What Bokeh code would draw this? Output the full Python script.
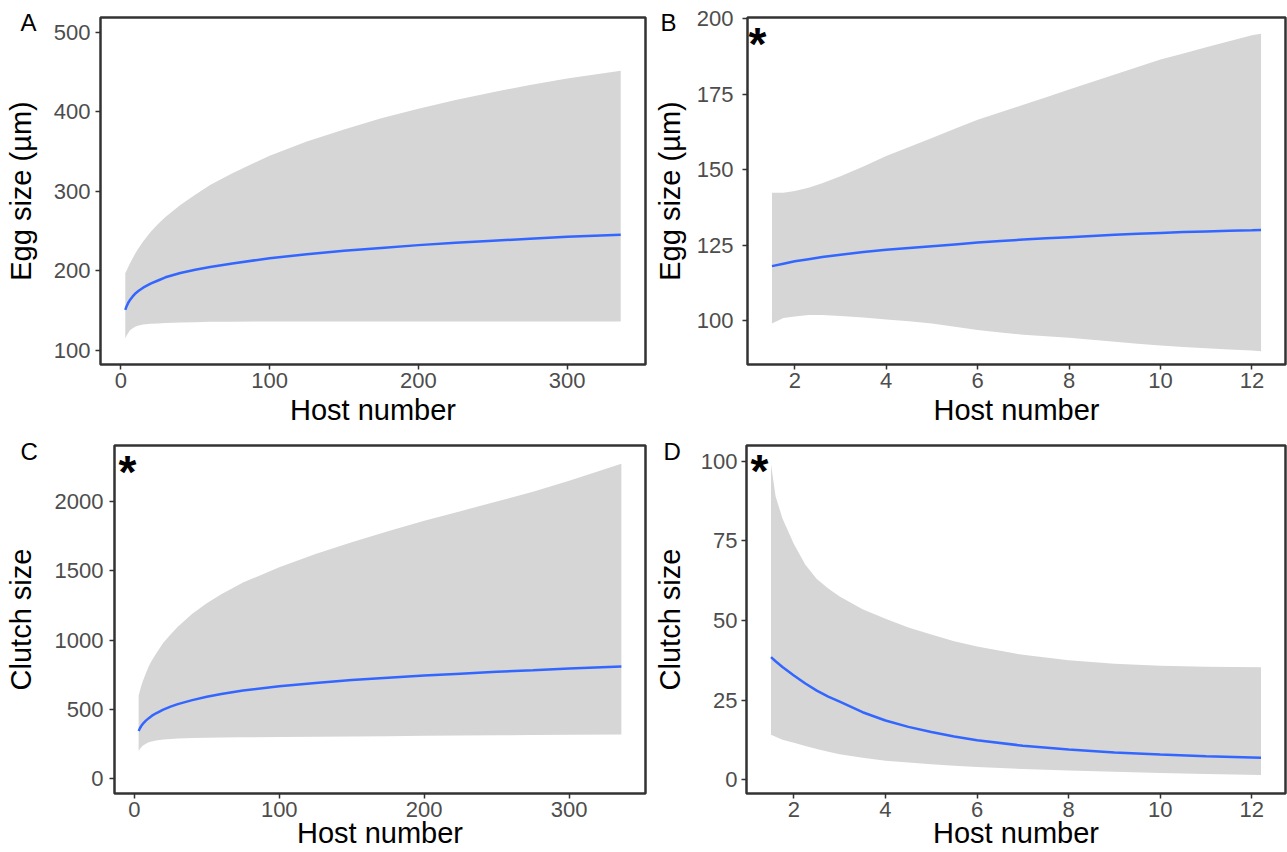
from bokeh.plotting import figure
from bokeh.layouts import row, column
from bokeh.models import Range1d, FixedTicker, Label, Title
from bokeh.embed import file_html
from bokeh.resources import INLINE

# ---------------- data ----------------
# Panel A: egg size vs host number (wide range)
a_host = [3, 4, 5, 6, 8, 10, 12, 15, 20, 25, 30, 40, 50, 60, 75, 100, 125, 150, 175, 200, 225, 250, 275, 300, 336]
a_fit = [151, 156, 160, 163, 168, 172, 175, 179, 184, 188, 192, 197.5, 201.5, 205, 209.5, 216, 221, 225.5, 229, 232.5, 235.5, 238, 240.5, 243, 245.5]
a_upper = [197, 201, 205, 209, 216, 223, 229, 237, 249, 259, 268, 283, 296, 308, 323, 345, 363, 378, 392, 404, 415, 425, 434, 442, 452]
a_lower = [115, 119, 122, 125, 128, 130, 131.5, 132.5, 133.5, 134, 134.5, 135, 135.5, 136, 136, 136.5, 136.5, 136.5, 136.5, 136.5, 136.5, 136.5, 136.5, 136.5, 136.5]

# Panel B: egg size vs host number (narrow range)
b_host = [1.5, 1.75, 2, 2.3, 2.6, 3, 3.5, 4, 4.5, 5, 5.5, 6, 6.5, 7, 7.5, 8, 8.5, 9, 9.5, 10, 10.5, 11, 11.5, 12, 12.2]
b_fit = [118, 118.8, 119.6, 120.3, 121, 121.8, 122.7, 123.4, 124, 124.6, 125.2, 125.8, 126.3, 126.8, 127.2, 127.6, 128, 128.4, 128.7, 129, 129.3, 129.5, 129.7, 129.9, 130]
b_upper = [142.3, 142.3, 142.9, 144, 145.5, 147.8, 151, 154.5, 157.5, 160.5, 163.5, 166.5, 169, 171.5, 174, 176.5, 179, 181.5, 184, 186.5, 188.5, 190.5, 192.5, 194.5, 195]
b_lower = [99, 100.8, 101.3, 101.8, 101.8, 101.5, 101, 100.3, 99.7, 99, 97.9, 96.8, 96, 95.3, 94.8, 94.3, 93.6, 92.9, 92.3, 91.7, 91.2, 90.8, 90.4, 90, 89.8]

# Panel C: clutch size vs host number (wide range)
c_host = [3, 4, 5, 6, 8, 10, 12, 15, 20, 25, 30, 40, 50, 60, 75, 100, 125, 150, 175, 200, 225, 250, 275, 300, 336]
c_fit = [343, 365, 382, 396, 418, 436, 452, 471, 498, 519, 537, 566, 590, 610, 635, 666, 690, 711, 728, 743, 757, 770, 782, 795, 808]
c_upper = [600, 640, 675, 705, 760, 810, 850, 900, 980, 1040, 1095, 1190, 1265, 1330, 1415, 1525, 1620, 1705, 1785, 1860, 1930, 2000, 2070, 2150, 2273]
c_lower = [198, 215, 228, 238, 252, 262, 268, 275, 282, 286, 289, 292, 294, 296, 298, 300, 302, 304, 306, 308, 310, 312, 314, 316, 318]

# Panel D: clutch size vs host number (narrow range)
d_host = [1.5, 1.6, 1.75, 2, 2.25, 2.5, 2.75, 3, 3.5, 4, 4.5, 5, 5.5, 6, 7, 8, 9, 10, 11, 12.2]
d_fit = [38.5, 37.2, 35.4, 32.7, 30.2, 28.0, 26.1, 24.5, 21.2, 18.6, 16.6, 15.0, 13.6, 12.4, 10.7, 9.5, 8.6, 7.9, 7.4, 6.9]
d_upper = [99, 89, 82, 74, 67.5, 63, 60, 57.5, 53.5, 50.5, 47.8, 45.6, 43.5, 41.8, 39.2, 37.5, 36.4, 35.8, 35.5, 35.3]
d_lower = [14.1, 13.5, 12.6, 11.6, 10.6, 9.7, 8.8, 8.0, 6.9, 6.0, 5.4, 4.9, 4.4, 4.0, 3.4, 2.9, 2.5, 2.1, 1.8, 1.5]

# axis ticks
wide_x_ticks = [0, 100, 200, 300]
narrow_x_ticks = [2, 4, 6, 8, 10, 12]
a_y_ticks = [100, 200, 300, 400, 500]
b_y_ticks = [100, 125, 150, 175, 200]
c_y_ticks = [0, 500, 1000, 1500, 2000]
d_y_ticks = [0, 25, 50, 75, 100]

FONT = "Liberation Sans"
BAND = "#D6D6D6"
LINE = "#3366FF"
DARK = "#333333"


def panel(width, height, xr, yr, xticks, yticks, ylabel, letter, star,
          mb, y_std, ylab_std, xlab_std, letter_off):
    p = figure(width=width, height=height,
               x_range=Range1d(*xr), y_range=Range1d(*yr),
               output_backend="svg", toolbar_location=None, tools="",
               min_border_left=mb[0], min_border_right=mb[1],
               min_border_top=mb[2], min_border_bottom=mb[3])
    p.background_fill_color = "white"
    p.border_fill_color = "white"
    p.xgrid.visible = False
    p.ygrid.visible = False
    p.outline_line_color = DARK
    p.outline_line_width = 2.5
    p.outline_line_alpha = 1.0

    # panel letter drawn as the figure title, pulled down beside the frame
    p.title = Title(text=letter, text_font=FONT, text_font_size="24px",
                    text_font_style="normal", text_color="black",
                    align="left", offset=letter_off[0], standoff=letter_off[1])

    for ax in (p.xaxis[0], p.yaxis[0]):
        ax.axis_line_color = None
        ax.major_tick_line_color = DARK
        ax.major_tick_line_width = 1.5
        ax.major_tick_out = 5
        ax.major_tick_in = 0
        ax.minor_tick_line_color = None
        ax.major_label_text_font = FONT
        ax.major_label_text_font_size = "22px"
        ax.major_label_text_color = "#4D4D4D"
        ax.axis_label_text_font = FONT
        ax.axis_label_text_font_size = "29px"
        ax.axis_label_text_font_style = "normal"
        ax.axis_label_text_color = "black"
    p.xaxis.ticker = FixedTicker(ticks=xticks)
    p.yaxis.ticker = FixedTicker(ticks=yticks)
    p.xaxis.axis_label = "Host number"
    p.yaxis.axis_label = ylabel
    p.xaxis.major_label_standoff = 3
    p.yaxis.major_label_standoff = y_std
    p.yaxis.axis_label_standoff = ylab_std
    p.xaxis.axis_label_standoff = xlab_std

    if star is not None:
        p.add_layout(Label(x=xr[0], y=yr[1], x_offset=star[0], y_offset=star[1],
                           text="*", text_font=FONT, text_font_size="46px",
                           text_font_style="bold",
                           text_color="black", text_align="left", text_baseline="alphabetic"))
    return p


def draw(p, x, fit, lo, hi):
    p.varea(x=x, y1=lo, y2=hi, fill_color=BAND, fill_alpha=1.0)
    p.line(x=x, y=fit, line_color=LINE, line_width=2.5)


H1, H2 = 430, 422
WL, WR = 650, 637

pA = panel(WL, H1, (-13.65, 352.65), (82.3, 518.9), wide_x_ticks, a_y_ticks,
           "Egg size (µm)", "A", None, (100, 5, 17, 66), 5, 14, 3, (-80, -37))
draw(pA, a_host, a_fit, a_lower, a_upper)

pB = panel(WR, H1, (0.965, 12.735), (85.4, 200.4), narrow_x_ticks, b_y_ticks,
           "Egg size (µm)", "B", (1, -26), (97, 2, 17, 66), 9, 8, 3, (-87, -37))
draw(pB, b_host, b_fit, b_lower, b_upper)

pC = panel(WL, H2, (-13.65, 352.65), (-108, 2404), wide_x_ticks, c_y_ticks,
           "Clutch size", "C", (4, -26), (114, 5, 15, 59), 6, 15, -3, (-94, -39))
draw(pC, c_host, c_fit, c_lower, c_upper)

pD = panel(WR, H2, (0.965, 12.735), (-4.3, 104.9), narrow_x_ticks, d_y_ticks,
           "Clutch size", "D", (4, -25), (94, 2, 15, 59), 4, 12, -3, (-83, -39))
draw(pD, d_host, d_fit, d_lower, d_upper)

layout = column(row(pA, pB, spacing=0), row(pC, pD, spacing=0), spacing=0)

open("out.html", "w").write(file_html(layout, INLINE))
